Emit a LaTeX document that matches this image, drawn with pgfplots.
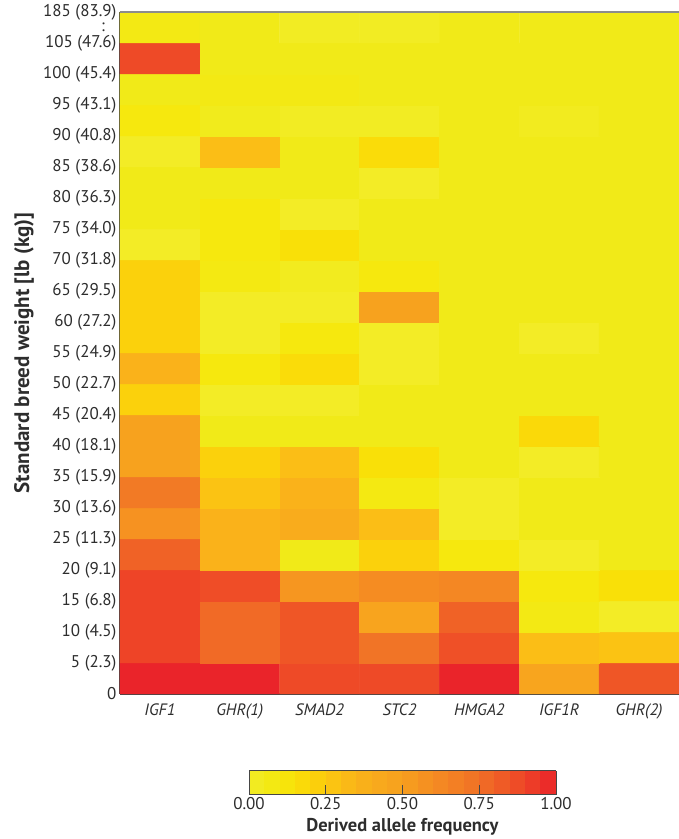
\documentclass[border=0pt]{standalone}
\usepackage{fontspec}
\setmainfont{PT Sans}
\usepackage{pgfplots}
\pgfplotsset{compat=1.18}
\usepackage{pgfplotstable}
\definecolor{txt}{RGB}{45,45,45}
\definecolor{axc}{RGB}{70,70,70}

\pgfplotstableread{
x y c
0 0.5 1.00
1 0.5 1.00
2 0.5 0.88
3 0.5 0.88
4 0.5 1.00
5 0.5 0.46
6 0.5 0.84
0 1.5 0.90
1 1.5 0.77
2 1.5 0.84
3 1.5 0.73
4 1.5 0.86
5 1.5 0.30
6 1.5 0.28
0 2.5 0.90
1 2.5 0.77
2 2.5 0.84
3 2.5 0.47
4 2.5 0.80
5 2.5 0.07
6 2.5 0.01
0 3.5 0.90
1 3.5 0.87
2 3.5 0.55
3 3.5 0.60
4 3.5 0.63
5 3.5 0.10
6 3.5 0.15
0 4.5 0.80
1 4.5 0.36
2 4.5 0.05
3 4.5 0.22
4 4.5 0.10
5 4.5 0.01
6 4.5 0.05
0 5.5 0.57
1 5.5 0.36
2 5.5 0.40
3 5.5 0.30
4 5.5 0.01
5 5.5 0.05
6 5.5 0.05
0 6.5 0.70
1 6.5 0.28
2 6.5 0.36
3 6.5 0.08
4 6.5 0.01
5 6.5 0.05
6 6.5 0.05
0 7.5 0.48
1 7.5 0.22
2 7.5 0.30
3 7.5 0.15
4 7.5 0.05
5 7.5 0.01
6 7.5 0.05
0 8.5 0.48
1 8.5 0.05
2 8.5 0.05
3 8.5 0.05
4 8.5 0.05
5 8.5 0.18
6 8.5 0.05
0 9.5 0.22
1 9.5 0.01
2 9.5 0.01
3 9.5 0.05
4 9.5 0.05
5 9.5 0.05
6 9.5 0.05
0 10.5 0.36
1 10.5 0.10
2 10.5 0.17
3 10.5 0.01
4 10.5 0.05
5 10.5 0.05
6 10.5 0.05
0 11.5 0.22
1 11.5 0.01
2 11.5 0.10
3 11.5 0.01
4 11.5 0.05
5 11.5 0.01
6 11.5 0.05
0 12.5 0.22
1 12.5 0.01
2 12.5 0.01
3 12.5 0.48
4 12.5 0.05
5 12.5 0.05
6 12.5 0.05
0 13.5 0.22
1 13.5 0.08
2 13.5 0.03
3 13.5 0.10
4 13.5 0.05
5 13.5 0.05
6 13.5 0.05
0 14.5 0.01
1 14.5 0.10
2 14.5 0.15
3 14.5 0.05
4 14.5 0.05
5 14.5 0.05
6 14.5 0.05
0 15.5 0.05
1 15.5 0.10
2 15.5 0.01
3 15.5 0.05
4 15.5 0.05
5 15.5 0.05
6 15.5 0.05
0 16.5 0.05
1 16.5 0.05
2 16.5 0.05
3 16.5 0.01
4 16.5 0.05
5 16.5 0.05
6 16.5 0.05
0 17.5 0.01
1 17.5 0.30
2 17.5 0.05
3 17.5 0.17
4 17.5 0.05
5 17.5 0.05
6 17.5 0.05
0 18.5 0.10
1 18.5 0.04
2 18.5 0.02
3 18.5 0.02
4 18.5 0.05
5 18.5 0.03
6 18.5 0.05
0 19.5 0.05
1 19.5 0.07
2 19.5 0.07
3 19.5 0.05
4 19.5 0.05
5 19.5 0.05
6 19.5 0.05
0 20.5 0.88
1 20.5 0.05
2 20.5 0.05
3 20.5 0.05
4 20.5 0.05
5 20.5 0.05
6 20.5 0.05
0 21.5 0.07
1 21.5 0.05
2 21.5 0.02
3 21.5 0.02
4 21.5 0.05
5 21.5 0.05
6 21.5 0.05
}\heat

\begin{document}
\begin{tikzpicture}
\path[use as bounding box] (0,0) rectangle (679pt,839pt);
\begin{axis}[
  at={(120pt,145pt)}, anchor=south west,
  scale only axis, width=559pt, height=682pt,
  xmin=-0.5, xmax=6.5, ymin=0, ymax=22,
  axis lines*=left,
  axis line style={draw=axc, line width=1.1pt},
  tick align=inside,
  major tick length=8pt,
  tick style={draw=axc, line width=1pt},
  xtick={0,...,6},
  xticklabels={IGF1,GHR(1),SMAD2,STC2,HMGA2,IGF1R,GHR(2)},
  xticklabel style={font=\fontsize{16.5}{19}\selectfont\itshape, text=txt, yshift=-6pt},
  ytick={0,...,22},
  yticklabels={0,5 (2.3),10 (4.5),15 (6.8),20 (9.1),25 (11.3),30 (13.6),35 (15.9),40 (18.1),45 (20.4),50 (22.7),55 (24.9),60 (27.2),65 (29.5),70 (31.8),75 (34.0),80 (36.3),85 (38.6),90 (40.8),95 (43.1),100 (45.4),105 (47.6),185 (83.9)},
  yticklabel style={font=\fontsize{17}{20}\selectfont, text=txt},
  ylabel={\textbf{Standard breed weight [lb (kg)]}},
  every axis y label/.style={at={(axis description cs:-0.1717,0.5)}, rotate=90, anchor=center},
  ylabel style={font=\fontsize{21}{24}\selectfont, text=txt},
  colormap={heat}{rgb255(0cm)=(243,237,42); rgb255(1cm)=(241,234,24); rgb255(2cm)=(246,232,14); rgb255(3cm)=(249,224,8); rgb255(4cm)=(251,213,10); rgb255(5cm)=(252,202,15); rgb255(6cm)=(251,190,22); rgb255(7cm)=(250,180,25); rgb255(8cm)=(249,172,28); rgb255(9cm)=(248,166,30); rgb255(10cm)=(247,160,30); rgb255(12cm)=(245,140,34); rgb255(14cm)=(242,122,37); rgb255(15cm)=(241,112,38); rgb255(16cm)=(240,98,38); rgb255(18cm)=(238,68,39); rgb255(20cm)=(234,36,42)},
  point meta min=0, point meta max=1,
  colorbar horizontal,
  colorbar sampled,
  colorbar style={
    at={(parent axis.south west)}, anchor=north west,
    xshift=129pt, yshift=-68pt,
    scale only axis,
    width=307pt, height=24pt,
    samples=21,
    axis line style={draw=axc, line width=1pt},
    xtick={0,0.25,0.5,0.75,1},
    xtick pos=left,
    tick align=inside,
    major tick length=10pt,
    tick style={draw=axc, line width=1pt},
    xticklabel style={font=\fontsize{17}{20}\selectfont, text=txt, yshift=1pt, /pgf/number format/.cd, fixed, fixed zerofill, precision=2, assume math mode=true},
    xlabel={\textbf{Derived allele frequency}},
    xlabel style={font=\fontsize{18.5}{21}\selectfont, text=txt, yshift=-2pt},
  },
  clip=false,
]
\addplot[matrix plot*, mesh/cols=7, point meta=explicit] table[meta=c] {\heat};
\draw[draw=black!45, line width=1.2pt] (rel axis cs:0,1) -- (rel axis cs:1,1);
\node[font=\fontsize{17}{20}\selectfont, text=txt] at (axis cs:-0.5,21.5) [xshift=-17pt] {:};
\end{axis}
\end{tikzpicture}
\end{document}
